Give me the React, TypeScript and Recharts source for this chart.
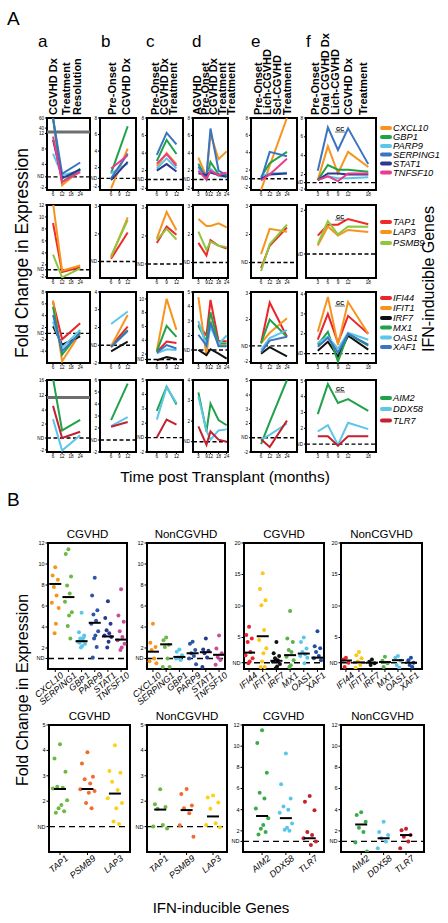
import React from 'react';
import { LineChart, Line, XAxis, YAxis, ReferenceLine, ReferenceArea, ScatterChart, Scatter } from 'recharts';

const FONT = '"Liberation Sans", Arial, Helvetica, sans-serif';

// ---------- panel A : time courses ----------
const monthsA = [6, 12, 24];
const monthsB = [6, 12];
const monthsC = [6, 9, 12];
const monthsD = [3, 9, 12, 18, 24];
const monthsE = [6, 12, 24];
const monthsF = [3, 6, 9, 12, 18];

const genes1 = ['CXCL10', 'GBP1', 'PARP9', 'SERPING1', 'STAT1', 'TNFSF10'];
const genes2 = ['TAP1', 'LAP3', 'PSMB9'];
const genes3 = ['IFI44', 'IFIT1', 'IRF7', 'MX1', 'OAS1', 'XAF1'];
const genes4 = ['AIM2', 'DDX58', 'TLR7'];

const colors1 = ['#f7941d', '#1fa24a', '#5cc6e8', '#3b74c1', '#2b3990', '#ec3a8d'];
const colors2 = ['#ee2a2a', '#f7941d', '#8dc63f'];
const colors3 = ['#e8262b', '#f7941d', '#111111', '#1fa24a', '#5cc6e8', '#3b74c1'];
const colors4 = ['#1fa24a', '#5cc6e8', '#c4202f'];

// row 1
const r1a = [[16, -1.4, 2.6], [16, -0.6, 2.9], [6.8, 1.2, 2.4], [16, 1.6, 4.5], [10.3, 0.4, 2.7], [11.2, -0.5, 2.0]];
const r1b = [[-0.5, 4.3], [1.3, 7.0], [1.3, 2.5], [0.7, 3.7], [0.5, 2.7], [1.9, 3.5]];
const r1c = [[2.5, 4.0, 2.75], [3.1, 5.5, 3.9], [2.25, 3.4, 2.25], [3.8, 6.3, 5.0], [2.0, 2.75, 1.9], [2.8, 3.9, 2.55]];
const r1d = [[3.5, 1.3, 6.2, 3.3, 4.2], [2.8, 1.0, 3.0, 1.6, 1.5], [2.3, 1.2, 2.2, 1.4, 1.3], [2.5, 1.3, 6.8, 2.0, 1.5], [1.7, 1.5, 1.8, 1.5, 1.3], [2.0, 1.0, 2.0, 1.5, 1.8]];
const r1e = [[-0.3, 2.5, 8], [1.2, 2.8, 4.1], [1.3, 1.6, 1.7], [0.9, 4.1, 3.6], [1.0, 1.5, 1.6], [0.8, 1.5, 3.3]];
const r1f = [[1.4, 5.0, 2.1, 4.4, 2.8], [1.4, 3.0, 2.5, 2.5, 2.3], [1.4, 1.8, 1.6, 1.6, 1.7], [2.4, 7.0, 4.6, 6.9, 3.1], [1.4, 2.1, 2.1, 2.0, 2.0], [1.4, 1.8, 1.3, 2.1, 2.1]];
// row 2
const r2a = [[9.0, 0.8, 1.6], [12.3, 1.0, 1.9], [3.7, -0.1, 1.4]];
const r2b = [[1.1, 2.05], [1.15, 2.6], [1.2, 2.5]];
const r2c = [[1.75, 2.33, 2.04], [1.9, 2.85, 2.2], [1.86, 2.25, 1.87]];
const r2d = [[1.7, 1.25, 1.8, 1.6, 1.5], [2.55, 2.3, 2.3, 2.4, 2.25], [2.1, 1.45, 1.75, 1.6, 1.55]];
const r2e = [[0.8, 1.6, 2.25], [1.3, 2.2, 2.1], [0.7, 1.65, 2.35]];
const r2f = [[1.42, 1.67, 1.67, 1.8, 1.68], [1.19, 1.63, 1.42, 1.55, 1.5], [1.23, 1.75, 1.45, 1.63, 1.62]];
// row 3
const r3a = [[6.3, 0, 2.7], [6.6, -3.7, 1.05], [2.2, -0.9, 0.5], [5.5, -2.6, 1.3], [3.0, -1.4, 1.6], [4.1, -2.0, 1.05]];
const r3b = [[0.95, 2.05], [0.95, 2.7], [0.65, 1.2], [0.9, 1.85], [2.2, 2.9], [0.9, 1.8]];
const r3c = [[2.3, 3.8, 3.6], [2.5, 10, 5.5], [1.1, 1.55, 1.3], [2.4, 6.1, 4.5], [2.1, 2.7, 2.6], [2.2, 3.3, 2.8]];
const r3d = [[2.75, 2.0, 4.45, 1.6, 1.6], [4.65, 0.6, 3.0, 1.3, 1.3], [1.0, 0.65, 1.05, 0.75, 0.4], [2.65, 1.6, 3.6, 1.45, 1.45], [3.0, 1.3, 2.6, 1.4, 2.0], [2.05, 1.3, 2.9, 1.25, 1.25]];
const r3e = [[1.1, 2.65, 1.35], [1.1, 1.5, 2.05], [0.7, 0.95, 0.6], [1.1, 2.0, 1.35], [0.85, 1.3, 1.6], [0.75, 1.2, 1.35]];
const r3f = [[1.7, 3.0, 1.55, 2.9, 2.0], [2.1, 3.85, 1.45, 3.6, 2.0], [1.15, 1.6, 0.85, 1.9, 1.2], [1.45, 2.1, 0.6, 2.0, 1.4], [1.55, 1.85, 1.25, 2.05, 1.7], [1.35, 1.8, 1.05, 2.0, 1.45]];
// row 4
const r4a = [[8.5, 1.1, 2.6], [2.7, -1.8, 0.4], [4.6, 0, 0.9]];
const r4b = [[2.65, 5.7], [2.15, 2.9], [2.1, 2.5]];
const r4c = [[2.85, 4.55, 3.3], [2.25, 4.5, 3.4], [1.0, 2.25, 1.9]];
const r4d = [[3.4, 1.5, 2.85, 2.05, 1.8], [3.2, 1.55, 1.1, 1.55, 1.6], [1.75, 0.85, 1.5, 1.1, 1.0]];
const r4e = [[0.55, 2.1, 5.05], [0.85, 1.2, 2.0], [0.9, 0.35, 2.2]];
const r4f = [[2.9, 4.8, 3.6, 3.85, 3.1], [1.8, 2.2, 0.95, 2.35, 1.95], [1.5, 1.5, 0.9, 1.5, 1.5]];

// y tick positions and their printed labels, per panel
const r1Ticks = [[-2, 0.8, 4, 8, 12, 13.4, 16], [-0.3, 0.7, 2, 4, 6, 8], [0, 1, 2, 4, 6, 8], [0, 1, 2, 4, 6, 8], [0, 1, 2, 4, 6, 8], [0.45, 1.13, 2, 4, 6, 8]];
const r1Labels = [['-2', 'ND', '4', '8', '12', '40', '60'], ['-2', 'ND', '2', '4', '6', '8'], ['-2', 'ND', '2', '4', '6', '8'], ['-2', 'ND', '2', '4', '6', '8'], ['-2', 'ND', '2', '4', '6', '8'], ['-2', 'ND', '2', '4', '6', '8']];
const r2Ticks = [[0, 1.17, 2, 4, 6, 8, 10, 12], [1, 2, 3], [1, 2, 3], [1, 2, 3], [1, 2, 3], [1, 2]];
const r2Labels = [['-2', 'ND', '2', '4', '6', '8', '10', '12'], ['ND', '2', '3'], ['ND', '2', '3'], ['ND', '2', '3'], ['ND', '2', '3'], ['ND', '2']];
const r3Ticks = [[-2, 0, 1, 2, 4, 6, 8], [0, 1, 2, 3, 4], [1.2, 2, 4, 6, 8, 10], [1, 2, 3, 4, 5], [0.4, 1, 2, 3], [1, 2, 3, 4]];
const r3Labels = [['-4', '-2', 'ND', '2', '4', '6', '8'], ['-2', 'ND', '2', '3', '4'], ['ND', '2', '4', '6', '8', '10'], ['ND', '2', '3', '4', '5'], ['-2', 'ND', '2', '3'], ['ND', '2', '3', '4']];
const r4Ticks = [[-1.7, 0, 2, 4, 6.1, 8.2], [0, 1, 2, 3, 4, 5, 6], [0, 1, 2, 3, 4, 5], [1, 2, 3, 4], [0, 1, 2, 3, 4, 5], [1, 2, 3, 4, 5]];
const r4Labels = [['-2', 'ND', '2', '4', '12', '16'], ['-2', 'ND', '2', '3', '4', '5', '6'], ['-2', 'ND', '2', '3', '4', '5'], ['ND', '2', '3', '4'], ['-2', 'ND', '2', '3', '4', '5'], ['ND', '2', '3', '4', '5']];

const r1Domains: [number, number][] = [[-2.6, 16], [-0.7, 8], [-0.2, 8], [-0.2, 8], [-0.3, 8], [0.35, 8]];
const r2Domains: [number, number][] = [[-0.2, 12], [0.4, 3.05], [0.5, 3.1], [0.45, 3.05], [0.45, 3.05], [0.45, 2.12]];
const r3Domains: [number, number][] = [[-4, 8], [0, 4], [0.7, 11], [0.1, 5], [0.35, 3.05], [0.53, 4.1]];
const r4Domains: [number, number][] = [[-2, 8.3], [0, 6], [0, 5], [0.5, 4], [0, 5.05], [0.5, 5.06]];
const r1Nd = [0.8, 0.7, 1, 1, 1, 1.13];
const r2Nd = [1.17, 1, 1, 1, 1, 1];
const r3Nd = [1, 1, 1.2, 1, 1, 1];
const r4Nd = [0, 1, 1, 1, 1, 1];

const colMonths = [monthsA, monthsB, monthsC, monthsD, monthsE, monthsF];
const colXTicks = [[6, 12, 18, 24], [6, 9, 12], [6, 9, 12], [3, 9, 12, 18, 24], [6, 12, 18, 24], [3, 6, 9, 12, 18]];
const colXDomains: [number, number][] = [[2, 30.5], [2, 15], [3, 14], [-1, 25], [-1, 31], [-0.5, 20.3]];
const colHeaders = [
  ['CGVHD Dx', 'Treatment', 'Resolution'],
  ['Pre-Onset', 'CGVHD Dx'],
  ['Pre-Onset', 'CGVHD Dx', 'Treatment'],
  ['AGVHD', 'Pre-Onset', 'CGVHD Dx', 'Treatment', 'Treatment'],
  ['Pre-Onset', 'Lich-CGVHD', 'Scl-CGVHD', 'Treatment'],
  ['Pre-Onset', 'Oral CGVHD Dx', 'Lich-CGVHD', 'CGVHD Dx', 'Treatment'],
];
const colLetters = ['a', 'b', 'c', 'd', 'e', 'f'];

// layout (pixels)
const colLeft = [47, 100, 147, 193, 251, 306];
const colWidth = [43, 36, 36, 35, 46, 70];
const rowTop = [118, 205, 292, 380];
const rowHeight = [72, 73, 71, 72];
const headerX = [[57, 70, 81], [116, 130], [159, 168, 177], [201, 209, 217, 226, 235], [262, 271, 281, 291], [319, 329, 339, 352, 367]];
const letterX = [38, 101, 146, 192, 251, 306];
const legendY = [[128, 137, 146, 154.5, 163.5, 172.5], [222, 232, 243], [298, 308, 318, 327.5, 337.5, 347], [398, 409, 420.5]];
const gcY = [131, 219, 305, 391];

// ---------- panel B : dot plots ----------
const dotGenes1 = ['CXCL10', 'SERPING1', 'GBP1', 'PARP9', 'STAT1', 'TNFSF10'];
const dotGenes2 = ['IFI44', 'IFIT1', 'IRF7', 'MX1', 'OAS1', 'XAF1'];
const dotGenes3 = ['TAP1', 'PSMB9', 'LAP3'];
const dotGenes4 = ['AIM2', 'DDX58', 'TLR7'];
const dotColors1 = ['#f7941d', '#6cb843', '#5cc6e8', '#2e56a6', '#2b3990', '#c44f9e'];
const dotColors2 = ['#e8262b', '#fcc815', '#111111', '#5db14a', '#5cc6e8', '#1f4fa3'];
const dotColors3 = ['#6cb843', '#f26a2f', '#fcd116'];
const dotColors4 = ['#3aaa4a', '#5cc6e8', '#c4202f'];

const cgvhd1 = [
  [9.7, 8.9, 8.5, 7.8, 7.0, 6.3, 5.8, 4.3, 3.4],
  [11.4, 10.95, 8.8, 7.95, 7.2, 6.4, 5.4, 5.1, 4.1, 2.9],
  [5.35, 3.5, 3.2, 2.9, 2.7, 2.6, 2.4, 2.2, 2.05, 3.0, 2.5],
  [8.7, 7.0, 5.6, 5.2, 4.6, 4.3, 3.6, 3.2, 2.9, 2.1, 1.1],
  [6.45, 4.85, 4.3, 3.7, 3.4, 3.2, 3.05, 2.6, 2.05],
  [7.6, 5.1, 4.5, 3.6, 3.05, 2.75, 2.4, 2.05, 1.8],
];
const cgvhd1Med = [8.1, 6.85, 2.65, 4.4, 3.1, 2.8];
const non1 = [
  [4.3, 2.5, 2.1, 1.8, 1.0, 0.75, 0.55],
  [3.0, 2.75, 2.3, 2.1, 1.0, 0.2, 0.2],
  [1.85, 1.65, 1.3, 1.1, 0.85, 1.0],
  [2.6, 2.4, 1.8, 1.5, 1.25, 1.0, 0.45],
  [2.9, 1.85, 1.75, 1.5, 1.1, 0.2],
  [3.2, 1.95, 1.5, 1.15, 0.85, 0.4],
];
const non1Med = [1.65, 2.35, 1.15, 1.5, 1.6, 1.35];
const cgvhd2 = [
  [6.7, 5.4, 4.85, 4.3, 2.7, 2.2, 1.7, 1.2, 0.9],
  [15.2, 12.7, 10.9, 10.1, 6.2, 4.6, 3.3, 2.5, 1.2, 0.3, 0.3],
  [4.3, 2.5, 2.05, 1.7, 1.4, 1.15, 0.8, 0.4, 0.1],
  [9.2, 4.85, 4.3, 3.0, 2.7, 1.95, 1.4, 0.6, 0.3],
  [5.0, 4.3, 3.25, 2.7, 2.35, 2.05, 1.8, 0.9],
  [6.0, 3.6, 3.3, 2.7, 2.05, 1.7, 1.4],
];
const cgvhd2Med = [2.6, 5.2, 1.3, 2.2, 2.45, 1.8];
const non2 = [
  [1.8, 1.5, 1.0, 0.3],
  [2.7, 2.2, 1.7, 1.2, 0.65, 0.2],
  [1.5, 1.15, 0.9, 0.65],
  [1.95, 1.3, 0.9, 0.3],
  [2.05, 1.8, 1.3, 0.65, 0.2],
  [1.8, 1.4, 1.0, 0.65, 0.3],
];
const non2Med = [1.35, 1.05, 1.0, 1.1, 1.4, 1.0];
const cgvhd3 = [
  [4.24, 3.68, 3.16, 2.57, 2.53, 2.5, 2.04, 1.85, 1.72, 1.6, 1.55],
  [3.93, 3.48, 2.96, 2.86, 2.7, 2.47, 2.4, 2.33, 1.93, 1.72],
  [4.2, 3.19, 3.12, 2.77, 2.44, 2.12, 1.93, 1.72, 1.2, 1.1],
];
const cgvhd3Med = [2.48, 2.48, 2.3];
const non3 = [
  [2.47, 1.88, 1.77, 1.7, 1.06, 1.0, 0.93],
  [2.48, 2.28, 1.83, 1.72, 1.53, 1.05, 0.6],
  [2.22, 2.15, 1.95, 1.7, 1.13, 1.06, 0.97],
];
const non3Med = [1.67, 1.65, 1.4];
const cgvhd4 = [
  [11.5, 10.3, 7.5, 5.6, 5.05, 4.1, 3.2, 2.55, 2.2, 1.9, 1.65],
  [9.3, 6.4, 5.05, 4.3, 4.0, 3.7, 2.7, 2.3, 2.1, 2.0],
  [5.3, 4.75, 3.95, 1.9, 1.6, 1.3, 1.0, 0.65],
];
const cgvhd4Med = [3.4, 3.2, 1.3];
const non4 = [
  [3.75, 3.5, 2.85, 2.3, 1.9, 0.9, 0.05],
  [2.85, 1.9, 1.6, 1.3, 1.0, 0.35],
  [2.2, 2.05, 1.6, 1.45, 1.0, 0.35],
];
const non4Med = [2.6, 1.3, 1.6];

const dotTicks12 = [1, 2, 4, 6, 8, 10, 12];
const dotLabels12 = ['ND', '2', '4', '6', '8', '10', '12'];
const dotTicks20 = [1, 5, 10, 15, 20];
const dotLabels20 = ['ND', '5', '10', '15', '20'];
const dotTicks5 = [1, 2, 3, 4, 5];
const dotLabels5 = ['ND', '2', '3', '4', '5'];

const JITTER = [0, -0.2, 0.2, -0.1, 0.1, -0.26, 0.26, 0.05, -0.05, 0.15, -0.15];

type MiniProps = {
  left: number; top: number; w: number; h: number;
  xDomain: [number, number]; xTicks: number[]; months: number[];
  yDomain: [number, number]; yTicks: number[]; yLabels: string[];
  nd: number; values: number[][]; colors: string[]; band?: number;
};

const Mini = (p: MiniProps) => {
  const data = p.months.map((m, i) => {
    const row: Record<string, number> = { m };
    p.values.forEach((v, k) => { row['s' + k] = v[i]; });
    return row;
  });
  const YW = 14, TOP = 2, RIGHT = 2, XH = 11;
  const tickStyle = { fontSize: 4.6, fill: '#000', fontFamily: FONT };
  return (
    <div style={{ position: 'absolute', left: p.left - YW, top: p.top - TOP }}>
      <LineChart width={p.w + YW + RIGHT} height={p.h + TOP + XH} data={data} margin={{ top: TOP, right: RIGHT, bottom: 0, left: 0 }}>
        <XAxis dataKey="m" type="number" domain={p.xDomain} ticks={p.xTicks} allowDataOverflow height={XH}
          axisLine={false} tickSize={2} tickLine={{ stroke: '#000' }} tick={tickStyle} interval={0} tickMargin={1} />
        <YAxis type="number" domain={p.yDomain} ticks={p.yTicks} allowDataOverflow width={YW}
          axisLine={false} tickSize={2} tickLine={{ stroke: '#000' }} tick={tickStyle} interval={0} tickMargin={1}
          tickFormatter={(v: number) => p.yLabels[p.yTicks.indexOf(v)] ?? ''} />
        {p.band !== undefined && <ReferenceLine y={p.band} stroke="#6e6e6e" strokeWidth={3} />}
        <ReferenceLine y={p.nd} stroke="#000" strokeWidth={1.4} strokeDasharray="4 2.5" />
        {p.values.map((_, k) => (
          <Line key={k} dataKey={'s' + k} stroke={p.colors[k]} strokeWidth={2} dot={false} isAnimationActive={false} />
        ))}
        <ReferenceArea x1={p.xDomain[0]} x2={p.xDomain[1]} y1={p.yDomain[0]} y2={p.yDomain[1]}
          fill="none" fillOpacity={0} stroke="#000" strokeWidth={2} ifOverflow="visible" />
      </LineChart>
    </div>
  );
};

type DotProps = {
  left: number; top: number; w: number; h: number; xDomain: [number, number];
  genes: string[]; colors: string[]; values: number[][]; medians: number[];
  yDomain: [number, number]; yTicks: number[]; yLabels: string[];
};

const DotPlot = (p: DotProps) => {
  // extra left room so the slanted gene names are not cut at the chart's edge
  const PADL = 26, YW = 13, TOP = 3, RIGHT = 3, XH = 44;
  const idx = p.genes.map((_, i) => i);
  const tickStyle = { fontSize: 5.5, fill: '#000', fontFamily: FONT };
  const catTick = (t: any) => (
    <g transform={`translate(${t.x + 7},${t.y}) rotate(-40)`}>
      <text textAnchor="end" fontSize={9} fontStyle="italic" fontFamily={FONT} fill="#000" dy={3}>
        {p.genes[t.payload.value]}
      </text>
    </g>
  );
  return (
    <div style={{ position: 'absolute', left: p.left - YW - PADL, top: p.top - TOP }}>
      <ScatterChart width={p.w + YW + PADL + RIGHT} height={p.h + TOP + XH} margin={{ top: TOP, right: RIGHT, bottom: 0, left: PADL }}>
        <XAxis dataKey="x" type="number" domain={p.xDomain} ticks={idx} allowDataOverflow height={XH}
          axisLine={false} tickSize={3} tickLine={{ stroke: '#000' }} tick={catTick} interval={0} />
        <YAxis dataKey="y" type="number" domain={p.yDomain} ticks={p.yTicks} allowDataOverflow width={YW}
          axisLine={false} tickSize={2.5} tickLine={{ stroke: '#000' }} tick={tickStyle} interval={0} tickMargin={1}
          tickFormatter={(v: number) => p.yLabels[p.yTicks.indexOf(v)] ?? ''} />
        <ReferenceLine y={1} stroke="#000" strokeWidth={1.4} strokeDasharray="6 4" />
        {p.values.map((vals, i) => (
          <Scatter key={i} data={vals.map((v, j) => ({ x: i + JITTER[j % JITTER.length], y: v }))}
            isAnimationActive={false}
            shape={(s: any) => <circle cx={s.cx} cy={s.cy} r={2} fill={p.colors[i]} />} />
        ))}
        <Scatter data={p.medians.map((m, i) => ({ x: i, y: m }))} isAnimationActive={false}
          shape={(s: any) => <line x1={s.cx - 6} x2={s.cx + 6} y1={s.cy} y2={s.cy} stroke="#000" strokeWidth={2} />} />
        <ReferenceArea x1={p.xDomain[0]} x2={p.xDomain[1]} y1={p.yDomain[0]} y2={p.yDomain[1]}
          fill="none" fillOpacity={0} stroke="#000" strokeWidth={2} ifOverflow="visible" />
      </ScatterChart>
    </div>
  );
};

const rows = [
  { vals: [r1a, r1b, r1c, r1d, r1e, r1f], ticks: r1Ticks, labels: r1Labels, domains: r1Domains, nd: r1Nd, colors: colors1, genes: genes1, band: [12.4] },
  { vals: [r2a, r2b, r2c, r2d, r2e, r2f], ticks: r2Ticks, labels: r2Labels, domains: r2Domains, nd: r2Nd, colors: colors2, genes: genes2, band: [undefined] },
  { vals: [r3a, r3b, r3c, r3d, r3e, r3f], ticks: r3Ticks, labels: r3Labels, domains: r3Domains, nd: r3Nd, colors: colors3, genes: genes3, band: [undefined] },
  { vals: [r4a, r4b, r4c, r4d, r4e, r4f], ticks: r4Ticks, labels: r4Labels, domains: r4Domains, nd: r4Nd, colors: colors4, genes: genes4, band: [5.8] },
];

const dots = [
  { left: 48, top: 543, w: 79, h: 126, xDomain: [-0.55, 5.45], title: 'CGVHD', genes: dotGenes1, colors: dotColors1, values: cgvhd1, medians: cgvhd1Med, yDomain: [0, 12], yTicks: dotTicks12, yLabels: dotLabels12 },
  { left: 147, top: 543, w: 78, h: 126, xDomain: [-0.45, 5.45], title: 'NonCGVHD', genes: dotGenes1, colors: dotColors1, values: non1, medians: non1Med, yDomain: [0, 12], yTicks: dotTicks12, yLabels: dotLabels12 },
  { left: 244, top: 543, w: 80, h: 126, xDomain: [-0.37, 5.48], title: 'CGVHD', genes: dotGenes2, colors: dotColors2, values: cgvhd2, medians: cgvhd2Med, yDomain: [0, 20], yTicks: dotTicks20, yLabels: dotLabels20 },
  { left: 341, top: 543, w: 81, h: 126, xDomain: [-0.38, 5.85], title: 'NonCGVHD', genes: dotGenes2, colors: dotColors2, values: non2, medians: non2Med, yDomain: [0, 20], yTicks: dotTicks20, yLabels: dotLabels20 },
  { left: 49, top: 725, w: 81, h: 127, xDomain: [-0.4, 2.55], title: 'CGVHD', genes: dotGenes3, colors: dotColors3, values: cgvhd3, medians: cgvhd3Med, yDomain: [0, 5], yTicks: dotTicks5, yLabels: dotLabels5 },
  { left: 147, top: 725, w: 80, h: 127, xDomain: [-0.5, 2.53], title: 'NonCGVHD', genes: dotGenes3, colors: dotColors3, values: non3, medians: non3Med, yDomain: [0, 5], yTicks: dotTicks5, yLabels: dotLabels5 },
  { left: 243, top: 725, w: 81, h: 127, xDomain: [-0.8, 2.6], title: 'CGVHD', genes: dotGenes4, colors: dotColors4, values: cgvhd4, medians: cgvhd4Med, yDomain: [0, 12], yTicks: dotTicks12, yLabels: dotLabels12 },
  { left: 341, top: 725, w: 83, h: 127, xDomain: [-0.9, 2.8], title: 'NonCGVHD', genes: dotGenes4, colors: dotColors4, values: non4, medians: non4Med, yDomain: [0, 12], yTicks: dotTicks12, yLabels: dotLabels12 },
];

export default function App() {
  return (
    <div style={{ position: 'absolute', left: 0, top: 0, width: 448, height: 923, background: '#fff', fontFamily: FONT, overflow: 'hidden' }}>
      {rows.map((row, r) => row.vals.map((vals, c) => (
        <Mini key={`${r}-${c}`} left={colLeft[c]} top={rowTop[r]} w={colWidth[c]} h={rowHeight[r]}
          xDomain={colXDomains[c]} xTicks={colXTicks[c]} months={colMonths[c]}
          yDomain={row.domains[c]} yTicks={row.ticks[c]} yLabels={row.labels[c]} nd={row.nd[c]}
          values={vals} colors={row.colors} band={c === 0 ? row.band[0] : undefined} />
      )))}
      {dots.map((d, i) => (
        <DotPlot key={i} left={d.left} top={d.top} w={d.w} h={d.h} xDomain={d.xDomain as [number, number]}
          genes={d.genes} colors={d.colors} values={d.values} medians={d.medians}
          yDomain={d.yDomain as [number, number]} yTicks={d.yTicks} yLabels={d.yLabels} />
      ))}
      <svg width={448} height={923} style={{ position: 'absolute', left: 0, top: 0, pointerEvents: 'none' }} fontFamily={FONT}>
        <text x={7} y={25} fontSize={19}>A</text>
        <text x={7} y={506} fontSize={19}>B</text>
        {colLetters.map((l, c) => <text key={l} x={letterX[c]} y={47} fontSize={17}>{l}</text>)}
        {colHeaders.map((hs, c) => hs.map((h, k) => (
          <text key={`${c}-${k}`} x={headerX[c][k]} y={115} fontSize={11} fontWeight="bold"
            transform={`rotate(-90 ${headerX[c][k]} 115)`}>{h}</text>
        )))}
        {rows.map((row, r) => row.genes.map((g, k) => (
          <g key={`${r}-${g}`}>
            <line x1={382} x2={390} y1={legendY[r][k]} y2={legendY[r][k]} stroke={row.colors[k]} strokeWidth={4} strokeLinecap="round" />
            <text x={393} y={legendY[r][k] + 3.3} fontSize={9.3} fontStyle="italic">{g}</text>
          </g>
        )))}
        {gcY.map((y, i) => (
          <g key={i}>
            <text x={340} y={y} fontSize={5.5} fontWeight="bold" textAnchor="middle">GC</text>
            <line x1={335} x2={345} y1={y + 1} y2={y + 1} stroke="#000" strokeWidth={0.6} />
          </g>
        ))}
        <text x={225} y={482} fontSize={15.5} textAnchor="middle">Time post Transplant (months)</text>
        <text x={28} y={253} fontSize={17.5} textAnchor="middle" transform="rotate(-90 28 253)">Fold Change in Expression</text>
        <text x={434} y={279} fontSize={16} textAnchor="middle" transform="rotate(-90 434 279)">IFN-inducible Genes</text>
        {dots.map((d, i) => (
          <text key={i} x={d.left + d.w / 2} y={d.top - 5} fontSize={11.5} textAnchor="middle">{d.title}</text>
        ))}
        <text x={28} y={690} fontSize={16} textAnchor="middle" transform="rotate(-90 28 690)">Fold Change in Expression</text>
        <text x={221} y={913} fontSize={15} textAnchor="middle">IFN-inducible Genes</text>
      </svg>
    </div>
  );
}
